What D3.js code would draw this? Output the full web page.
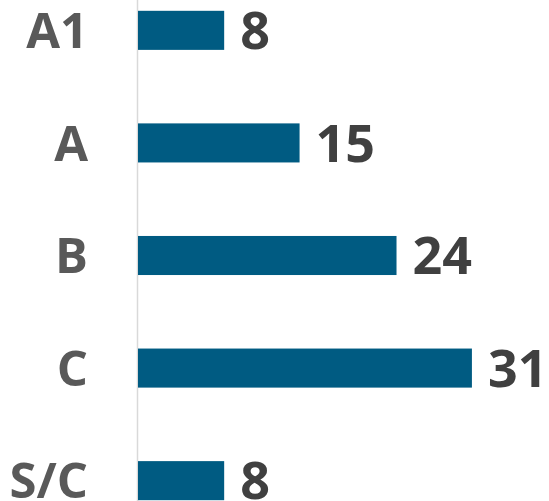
<!DOCTYPE html>
<html>
<head>
  <meta charset="utf-8">
  <script src="https://cdnjs.cloudflare.com/ajax/libs/d3/7.8.5/d3.min.js"></script>
  <style>
    body { margin: 0; background: #fff; }
    text { font-family: "Open Sans", sans-serif; font-weight: bold; }
  </style>
</head>
<body>
<script>
const categories = ["A1", "A", "B", "C", "S/C"];
const values = [8, 15, 24, 31, 8];

const width = 549, height = 501;

const svg = d3.select("body").append("svg")
    .attr("width", width)
    .attr("height", height);

const x = d3.scaleLinear()
    .domain([0, 35])
    .range([138, 515]);

const y = d3.scaleBand()
    .domain(categories)
    .range([-26, 537])
    .paddingInner(0.653)
    .paddingOuter(0.327);

// vertical axis line
svg.append("line")
    .attr("x1", 137.5).attr("x2", 137.5)
    .attr("y1", 0).attr("y2", height)
    .style("stroke", "#d9d9d9")
    .style("stroke-width", 1.5);

svg.selectAll("rect.bar")
  .data(values)
  .enter().append("rect")
    .attr("class", "bar")
    .attr("x", x(0))
    .attr("y", (d, i) => y(categories[i]))
    .attr("width", d => x(d) - x(0))
    .attr("height", y.bandwidth())
    .style("fill", "#005b82");

// value labels
svg.selectAll("text.val")
  .data(values)
  .enter().append("text")
    .attr("class", "val")
    .attr("x", d => x(d) + 16)
    .attr("y", (d, i) => y(categories[i]) + y.bandwidth() / 2)
    .attr("dy", "0.36em")
    .style("font-size", "52px")
    .style("fill", "#404040")
    .text(d => d);

// category labels
svg.selectAll("text.cat")
  .data(categories)
  .enter().append("text")
    .attr("class", "cat")
    .attr("x", 88)
    .attr("y", d => y(d) + y.bandwidth() / 2)
    .attr("dy", "0.36em")
    .style("text-anchor", "end")
    .style("font-size", "49px")
    .style("fill", "#595959")
    .text(d => d);
</script>
</body>
</html>
